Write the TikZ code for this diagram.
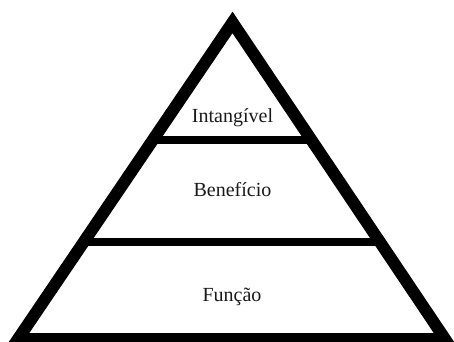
\documentclass[tikz,border=0pt]{standalone}
\usepackage{fontspec}
\setmainfont{Liberation Serif}
\usetikzlibrary{calc}
\tikzset{
  outline/.style={line width=12pt, line join=miter, miter limit=10, draw=black},
  divider/.style={line width=8pt, draw=black},
  label/.style={anchor=base, font=\fontsize{20}{24}\selectfont, text=black!90, inner sep=0pt}
}
\begin{document}
\begin{tikzpicture}[x=1pt,y=-1pt]
\useasboundingbox (0,0) rectangle (454,341);
\coordinate (A) at (232.5,22.4);
\coordinate (L) at (18,339);
\coordinate (R) at (445,339);
\draw[outline] (A) -- (L) -- (R) -- cycle;
\coordinate (l1) at ($(A)!0.37!(L)$);
\coordinate (r1) at ($(A)!0.37!(R)$);
\coordinate (l2) at ($(A)!0.6936!(L)$);
\coordinate (r2) at ($(A)!0.6936!(R)$);
\draw[divider] (l1) -- (r1);
\draw[divider] (l2) -- (r2);
\node[label] (intangivel) at (232.5,122.5) {Intangível};
\node[label] (beneficio) at (232.5,196) {Benefício};
\node[label] (funcao) at (232,301.5) {Função};
\end{tikzpicture}
\end{document}
